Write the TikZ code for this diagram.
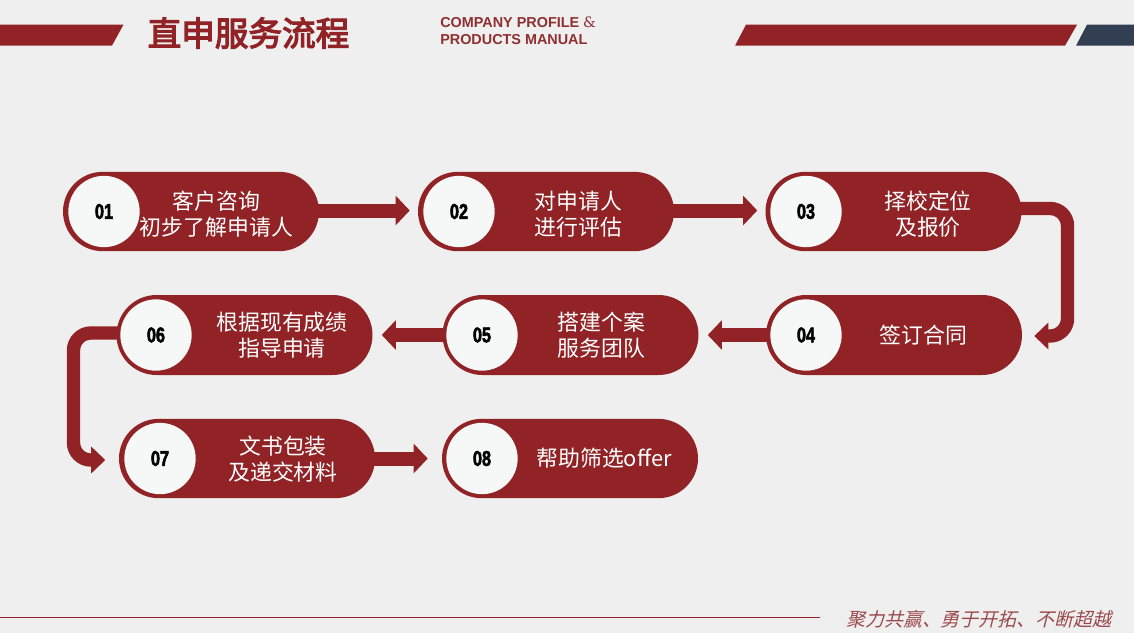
\documentclass[tikz,border=0pt]{standalone}
\usepackage{fontspec}
\usetikzlibrary{arrows.meta,shapes.misc,calc}
\setmainfont{Liberation Sans}
\newfontfamily\cjkf{Noto Sans CJK SC}
\newfontfamily\titlef[FakeBold=3.6]{Noto Sans CJK SC}
\newfontfamily\slantf[FakeSlant=0.25]{Noto Sans CJK SC}
\newfontfamily\numf[FakeStretch=0.76,FakeBold=2.4]{Liberation Sans Bold}
\newfontfamily\ampf{DejaVu Serif}
\definecolor{brick}{HTML}{912326}
\definecolor{navy}{HTML}{323E52}
\definecolor{paper}{HTML}{EFEFEF}
\definecolor{disc}{HTML}{F6F8F8}
\definecolor{subred}{HTML}{8F2F30}
\definecolor{footred}{HTML}{9A4A4C}
\tikzset{
  pill/.style={rounded rectangle,fill=brick,draw=none,minimum width=192pt,minimum height=59.5pt,inner sep=0pt},
  numdisc/.style={circle,fill=disc,draw=none,minimum size=53.5pt,inner sep=0pt,font=\numf\fontsize{16}{16}\selectfont,text=black},
  lbl/.style={text=white,align=center,inner sep=0pt,font=\cjkf\fontsize{16.4}{19.5}\selectfont},
  flowline/.style={draw=brick,line width=10.5pt,-{Triangle[length=10.5pt,width=21.5pt]}},
  bentline/.style={draw=brick,line width=10pt,-{Triangle[length=10.5pt,width=19.5pt]},rounded corners=13pt},
  subtxt/.style={anchor=west,inner sep=0pt,text=subred,font=\bfseries\fontsize{10.8}{10.8}\selectfont},
}
\begin{document}
\begin{tikzpicture}[x=.75pt,y=-.75pt]
\useasboundingbox (0,0) rectangle (1134,633);
\fill[paper] (0,0) rectangle (1134,633);
% header
\fill[brick] (0,24.6)--(123.5,24.6)--(112,45.6)--(0,45.6)--cycle;
\fill[brick] (746,24.7)--(1077,24.7)--(1065,45.7)--(735,45.7)--cycle;
\fill[navy] (1087,24.7)--(1134,24.7)--(1134,45.7)--(1076,45.7)--cycle;
\node[anchor=center,inner sep=0pt,text=brick,font=\titlef\fontsize{25.2}{25.2}\selectfont] (title) at (248.5,33) {直申服务流程};
\node[subtxt] (sub1) at (440,22.5) {COMPANY PROFILE {\ampf\mdseries\&}};
\node[subtxt] (sub2) at (440,39.5) {PRODUCTS MANUAL};
% pills
\node[pill] (a1) at (191,211.5) {};
\node[pill] (a2) at (546,211.5) {};
\node[pill] (a3) at (893.5,211.5) {};
\node[pill,minimum height=60pt] (a4) at (894,335) {};
\node[pill,minimum height=60pt] (a5) at (570.5,335) {};
\node[pill,minimum height=60pt] (a6) at (244.5,335) {};
\node[pill] (a7) at (247,458.5) {};
\node[pill] (a8) at (570,458.5) {};
% connectors
\coordinate (railr) at (1067.5,300);
\coordinate (raill) at (73.5,400);
\draw[flowline] ($(a1.east)+(-2,-1)$) -- ($(a2.west)+(-8,-1)$);
\draw[flowline] ($(a2.east)+(-2,-1)$) -- ($(a3.west)+(-8,-1)$);
\draw[flowline] ($(a4.west)+(2,0)$) -- ($(a5.east)+(9,0)$);
\draw[flowline] ($(a5.west)+(2,0)$) -- ($(a6.east)+(9,0)$);
\draw[flowline] ($(a7.east)+(-2,0)$) -- ($(a8.west)+(-14,0)$);
\coordinate (r1) at ($(a3.east)+(-3,-3)$);
\coordinate (r2) at ($(a4.east)+(12,1)$);
\coordinate (l1) at ($(a6.west)+(2,-2)$);
\coordinate (l2) at ($(a7.west)+(-13.5,1.5)$);
\draw[bentline] (r1) -- (r1 -| railr) -- (r2 -| railr) -- (r2);
\draw[bentline] (l1) -- (l1 -| raill) -- (l2 -| raill) -- (l2);
% discs
\node[numdisc] (n1) at (104,211.5) {01};
\node[numdisc] (n2) at (459,211.5) {02};
\node[numdisc] (n3) at (806,211.5) {03};
\node[numdisc] (n4) at (806,335) {04};
\node[numdisc] (n5) at (482,335) {05};
\node[numdisc] (n6) at (156,335) {06};
\node[numdisc] (n7) at (160,458.5) {07};
\node[numdisc] (n8) at (482,458.5) {08};
% labels
\node[lbl] (t1) at (216.5,214) {客户咨询\\初步了解申请人};
\node[lbl] (t2) at (578.5,214) {对申请人\\进行评估};
\node[lbl] (t3) at (928,214) {择校定位\\及报价};
\node[lbl] (t4) at (923.5,335) {签订合同};
\node[lbl] (t5) at (601.5,335) {搭建个案\\服务团队};
\node[lbl] (t6) at (282,335) {根据现有成绩\\指导申请};
\node[lbl] (t7) at (283,459) {文书包装\\及递交材料};
\node[lbl] (t8) at (604,458) {帮助筛选offer};
% footer
\fill[brick] (0,617) rectangle (820,618.2);
\node[anchor=west,inner sep=0pt,text=footred,font=\slantf\fontsize{14.2}{14.2}\selectfont] (foot) at (846,619) {聚力共赢、勇于开拓、不断超越};
\end{tikzpicture}
\end{document}
